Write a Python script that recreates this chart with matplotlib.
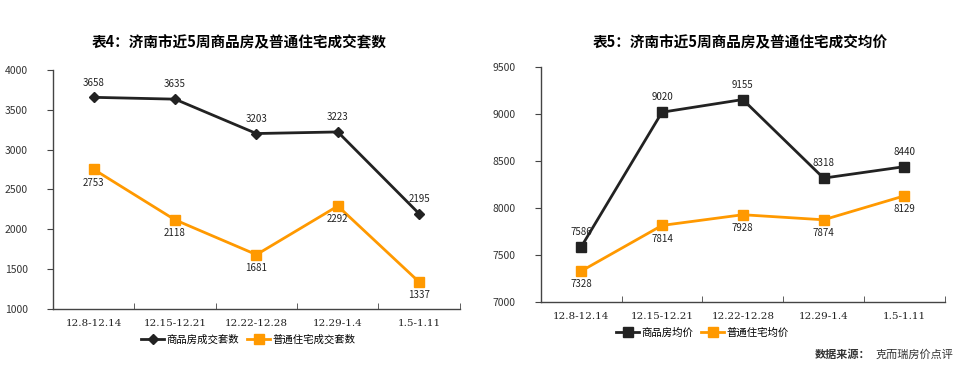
import matplotlib
matplotlib.use("Agg")
import matplotlib.pyplot as plt
import numpy as np

plt.rcParams['font.family'] = ['Noto Sans CJK SC', 'DejaVu Sans']

weeks = ["12.8-12.14", "12.15-12.21", "12.22-12.28", "12.29-1.4", "1.5-1.11"]

# table 4: transaction counts
sales_all = [3658, 3635, 3203, 3223, 2195]
sales_ord = [2753, 2118, 1681, 2292, 1337]
# table 5: average prices
price_all = [7586, 9020, 9155, 8318, 8440]
price_ord = [7328, 7814, 7928, 7874, 8129]

BLACK = "#222222"
ORANGE = "#FF9900"

fig = plt.figure(figsize=(9.78, 3.69), dpi=100)
ax1 = fig.add_axes([0.0542, 0.163, 0.416, 0.647])
ax2 = fig.add_axes([0.553, 0.182, 0.413, 0.636])


def style_axes(ax, ylim, yticks):
    x = np.arange(len(weeks))
    ax.set_xlim(-0.5, len(weeks) - 0.5)
    ax.set_ylim(*ylim)
    ax.set_yticks(yticks)
    ax.set_yticklabels([str(v) for v in yticks], fontsize=7.5, color="#333333")
    ax.set_xticks(x)
    ax.set_xticklabels(weeks, fontsize=7.5, color="#222222", family="DejaVu Serif")
    ax.set_xticks(np.arange(len(weeks) + 1) - 0.5, minor=True)
    ax.tick_params(axis="x", which="major", length=0, pad=7)
    ax.tick_params(axis="x", which="minor", length=4, direction="in", color="#444444")
    ax.tick_params(axis="y", length=4, direction="out", color="#444444", pad=14)
    for s in ["top", "right"]:
        ax.spines[s].set_visible(False)
    for s in ["left", "bottom"]:
        ax.spines[s].set_color("#444444")
        ax.spines[s].set_linewidth(1.0)


x = np.arange(len(weeks))

# left chart
ax1.plot(x, sales_all, color=BLACK, lw=2, marker="D", ms=5, label="商品房成交套数")
ax1.plot(x, sales_ord, color=ORANGE, lw=2, marker="s", ms=7, label="普通住宅成交套数")
style_axes(ax1, (1000, 4000), [1000, 1500, 2000, 2500, 3000, 3500, 4000])
for i, v in enumerate(sales_all):
    ax1.annotate(str(v), (i, v), xytext=(0, 7), textcoords="offset points",
                 ha="center", va="bottom", fontsize=7, color="#222222")
for i, v in enumerate(sales_ord):
    ax1.annotate(str(v), (i, v), xytext=(0, -6), textcoords="offset points",
                 ha="center", va="top", fontsize=7, color="#222222")
fig.text(0.245, 0.886, "表4：济南市近5周商品房及普通住宅成交套数", fontsize=10.5,
         fontweight="bold", ha="center", va="center")
ax1.legend(loc="upper center", bbox_to_anchor=(0.48, -0.068), ncol=2, frameon=False,
           fontsize=7.5, handlelength=2.2, columnspacing=0.8, handletextpad=0.2)

# right chart
ax2.plot(x, price_all, color=BLACK, lw=2, marker="s", ms=7, label="商品房均价")
ax2.plot(x, price_ord, color=ORANGE, lw=2, marker="s", ms=7, label="普通住宅均价")
style_axes(ax2, (7000, 9500), [7000, 7500, 8000, 8500, 9000, 9500])
for i, v in enumerate(price_all):
    ax2.annotate(str(v), (i, v), xytext=(0, 7), textcoords="offset points",
                 ha="center", va="bottom", fontsize=7, color="#222222")
for i, v in enumerate(price_ord):
    ax2.annotate(str(v), (i, v), xytext=(0, -6), textcoords="offset points",
                 ha="center", va="top", fontsize=7, color="#222222")
fig.text(0.757, 0.886, "表5：济南市近5周商品房及普通住宅成交均价", fontsize=10.5,
         fontweight="bold", ha="center", va="center")
ax2.legend(loc="upper center", bbox_to_anchor=(0.4, -0.07), ncol=2, frameon=False,
           fontsize=7.5, handlelength=2.2, columnspacing=0.8, handletextpad=0.2)

fig.text(0.833, 0.04, "数据来源：", fontsize=8, fontweight="bold", color="#333333",
         ha="left", va="center")
fig.text(0.895, 0.04, "克而瑞房价点评", fontsize=8, color="#333333",
         ha="left", va="center")

fig.savefig("out.png", dpi=100)
